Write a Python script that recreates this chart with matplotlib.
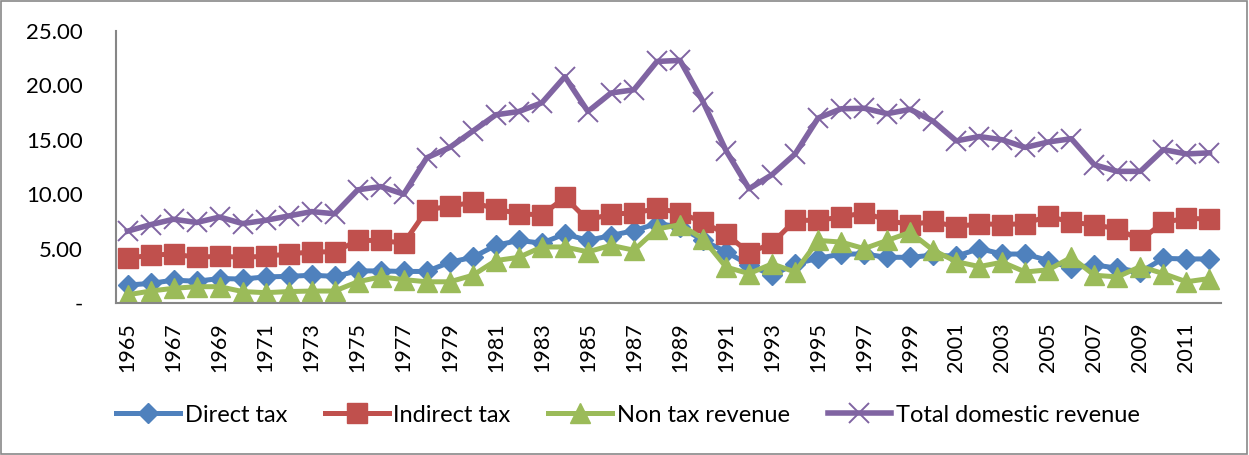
import numpy as np
import matplotlib
matplotlib.use('Agg')
import matplotlib.pyplot as plt
from matplotlib.patches import Rectangle
from matplotlib.ticker import FuncFormatter

plt.rcParams['font.family'] = ['Lato', 'DejaVu Sans']

# ============ data (share of GDP, %) ============
years = list(range(1965, 2013))

direct_tax = [1.65, 1.8, 2.1, 2.0, 2.25, 2.2, 2.4, 2.45, 2.55, 2.45, 2.95, 2.95,
              2.9, 2.9, 3.75, 4.2, 5.3, 5.75, 5.5, 6.35, 5.75, 6.2, 6.65, 7.3,
              7.0, 5.75, 4.7, 3.5, 2.55, 3.6, 4.1, 4.5, 4.5, 4.2, 4.2, 4.4,
              4.3, 5.0, 4.5, 4.5, 3.9, 3.2, 3.5, 3.2, 2.85, 4.1, 4.05, 4.05]

indirect_tax = [4.1, 4.4, 4.5, 4.2, 4.3, 4.2, 4.3, 4.5, 4.7, 4.7, 5.75, 5.75,
                5.5, 8.55, 8.9, 9.25, 8.65, 8.2, 8.1, 9.7, 7.6, 8.2, 8.25, 8.7,
                8.3, 7.4, 6.35, 4.6, 5.5, 7.6, 7.6, 7.9, 8.3, 7.6, 7.2, 7.5,
                7.0, 7.3, 7.2, 7.3, 8.0, 7.4, 7.2, 6.8, 5.8, 7.4, 7.8, 7.7]

non_tax = [0.75, 1.1, 1.35, 1.5, 1.5, 1.05, 0.95, 1.05, 1.1, 1.1, 1.95, 2.4,
           2.15, 1.95, 1.95, 2.55, 3.9, 4.2, 5.15, 5.15, 4.7, 5.3, 4.85, 6.8,
           7.2, 5.9, 3.3, 2.7, 3.6, 2.85, 5.75, 5.6, 5.0, 5.75, 6.5, 4.85,
           3.8, 3.35, 3.75, 2.85, 3.05, 4.2, 2.55, 2.4, 3.35, 2.7, 1.95, 2.25]

total_revenue = [6.6, 7.2, 7.7, 7.4, 7.9, 7.3, 7.6, 8.0, 8.4, 8.2, 10.4, 10.7,
                 10.0, 13.35, 14.3, 15.8, 17.3, 17.6, 18.4, 20.8, 17.6, 19.3, 19.6, 22.2,
                 22.3, 18.5, 14.0, 10.5, 11.8, 13.7, 17.0, 17.85, 17.9, 17.4, 17.8, 16.7,
                 14.9, 15.3, 15.0, 14.3, 14.8, 15.1, 12.7, 12.1, 12.1, 14.1, 13.7, 13.8]

y_ticks = [0, 5, 10, 15, 20, 25]
# ================================================

BLUE = '#4F81BD'
RED = '#C0504D'
GREEN = '#9BBB59'
PURPLE = '#8064A2'
AXIS_GREY = '#868686'

fig = plt.figure(figsize=(12.49, 4.55), dpi=100)
ax = fig.add_axes([116 / 1249, 1 - 303 / 455, 1105 / 1249, 272 / 455])

x = np.arange(len(years))

ax.plot(x, direct_tax, color=BLUE, linewidth=3.6, marker='D', markersize=10,
        markerfacecolor=BLUE, markeredgecolor=BLUE, label='Direct tax')
ax.plot(x, indirect_tax, color=RED, linewidth=3.6, marker='s', markersize=14,
        markerfacecolor=RED, markeredgecolor=RED, label='Indirect tax')
ax.plot(x, non_tax, color=GREEN, linewidth=3.6, marker='^', markersize=14,
        markerfacecolor=GREEN, markeredgecolor=GREEN, label='Non tax revenue')
ax.plot(x, total_revenue, color=PURPLE, linewidth=4, marker='x', markersize=14,
        markeredgewidth=1.4, markeredgecolor=PURPLE, label='Total domestic revenue')

ax.set_xlim(-0.5, len(years) - 0.5)
ax.set_ylim(0, 25)
ax.set_yticks(y_ticks)
ax.yaxis.set_major_formatter(FuncFormatter(lambda v, p: '-' if v == 0 else f'{v:.2f}'))
ax.set_xticks(x[::2])
ax.set_xticklabels([str(y) for y in years[::2]], rotation=90)

ax.tick_params(axis='y', length=0, pad=24, labelsize=16)
ax.tick_params(axis='x', length=0, pad=14, labelsize=15.5)

for side in ['top', 'right']:
    ax.spines[side].set_visible(False)
for side in ['left', 'bottom']:
    ax.spines[side].set_color(AXIS_GREY)
    ax.spines[side].set_linewidth(1.5)

fig.legend(loc='center', bbox_to_anchor=(628 / 1249, 1 - 415 / 455), ncol=4,
           frameon=False, fontsize=17, handlelength=2.7, handletextpad=0.2,
           columnspacing=1.6)

# 外边框
fig.add_artist(Rectangle((0.001, 0.002), 0.997, 0.995, transform=fig.transFigure,
                         fill=False, edgecolor='#898989', linewidth=1.2))

fig.savefig('out.png', dpi=100, facecolor='white')
